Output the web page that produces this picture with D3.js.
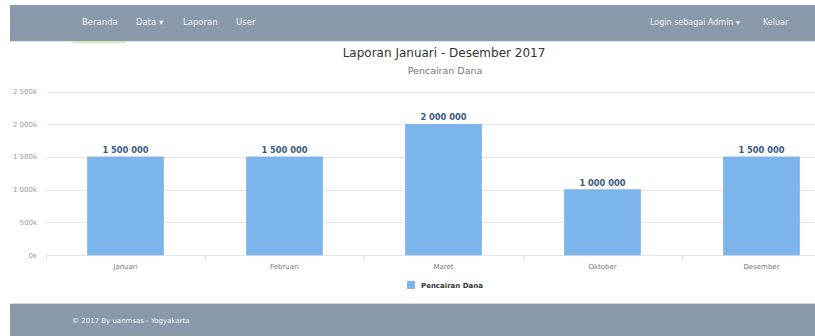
<!DOCTYPE html>
<html>
<head>
<meta charset="utf-8">
<script src="https://cdn.jsdelivr.net/npm/d3@7"></script>
<style>
  html, body { margin: 0; padding: 0; background: #fff; }
  svg { display: block; }
</style>
</head>
<body>
<svg id="page" width="815" height="336"></svg>
<script>
// Report data: disbursements per month (Rupiah)
const categories = ["Januari", "Februari", "Maret", "Oktober", "Desember"];
const values = [1500000, 1500000, 2000000, 1000000, 1500000];
const yTicks = [0, 500000, 1000000, 1500000, 2000000, 2500000];
const yTickLabels = ["0k", "500k", "1 000k", "1 500k", "2 000k", "2 500k"];
const seriesName = "Pencairan Dana";
const titleText = "Laporan Januari - Desember 2017";
const navLeft = ["Beranda", "Data \u25BE", "Laporan", "User"];
const navRight = ["Login sebagai Admin \u25BE", "Keluar"];
const footerText = "\u00A9 2017 By uanmsas - Yogyakarta";

const svg = d3.select("#page");
const font = "'DejaVu Sans', Verdana, sans-serif";
const barColor = "#7cb5ec";
const barColor2 = "#78aee6";
const navColor = "#8a99a9";

// ---- navbar ----
svg.append("rect").attr("x", 10).attr("y", 5).attr("width", 805).attr("height", 36).attr("fill", navColor);
svg.append("rect").attr("x", 10).attr("y", 41).attr("width", 805).attr("height", 1).attr("fill", "#dfe5ea");
svg.append("rect").attr("x", 73).attr("y", 41).attr("width", 53).attr("height", 2).attr("fill", "#cdeeb0");

const navLeftX = [82, 136, 183, 236];
svg.selectAll("text.navl").data(navLeft).join("text")
  .attr("class", "navl")
  .attr("x", (d, i) => navLeftX[i]).attr("y", 25)
  .attr("font-family", font).attr("font-size", 8.5)
  .attr("fill", "#eef2f6")
  .text(d => d);
const navRightX = [650, 763];
svg.selectAll("text.navr").data(navRight).join("text")
  .attr("class", "navr")
  .attr("x", (d, i) => navRightX[i]).attr("y", 25)
  .attr("font-family", font).attr("font-size", 8)
  .attr("fill", "#eef2f6")
  .text(d => d);

// ---- chart ----
const x = d3.scaleBand().domain(categories).range([46, 841]).padding(0);
const barFrac = 0.48;
const y = d3.scaleLinear().domain([0, 2500000]).range([255, 91.5]);

// title & subtitle
svg.append("text").attr("x", 444).attr("y", 57).attr("text-anchor", "middle")
  .attr("font-family", font).attr("font-size", 12).attr("fill", "#333")
  .text(titleText);
svg.append("text").attr("x", 445).attr("y", 74).attr("text-anchor", "middle")
  .attr("font-family", font).attr("font-size", 9.5).attr("fill", "#777")
  .text(seriesName);

// grid
const grid = svg.append("g");
grid.selectAll("line").data(yTicks.slice(1)).join("line")
  .attr("x1", 46).attr("x2", 815)
  .attr("y1", d => Math.round(y(d)) + 0.5).attr("y2", d => Math.round(y(d)) + 0.5)
  .attr("stroke", "#e6e6e6").attr("stroke-width", 1);

// y labels
svg.append("g").selectAll("text").data(yTicks).join("text")
  .attr("x", 37).attr("y", d => y(d) + 2.5)
  .attr("text-anchor", "end")
  .attr("font-family", font).attr("font-size", 7)
  .attr("fill", "#9a9a9a")
  .text((d, i) => yTickLabels[i]);

// x axis line and ticks
svg.append("line").attr("x1", 46).attr("x2", 815)
  .attr("y1", y(0) + 0.5).attr("y2", y(0) + 0.5)
  .attr("stroke", "#dfe4ee");
svg.append("g").selectAll("line").data(categories).join("line")
  .attr("x1", d => Math.round(x(d)) + 0.5).attr("x2", d => Math.round(x(d)) + 0.5)
  .attr("y1", y(0)).attr("y2", y(0) + 5)
  .attr("stroke", "#dfe4ee");

// bars
const bw = x.bandwidth() * barFrac;
svg.append("g").selectAll("rect").data(values).join("rect")
  .attr("x", (d, i) => x(categories[i]) + (x.bandwidth() - bw) / 2)
  .attr("width", bw)
  .attr("y", d => y(d))
  .attr("height", d => y(0) - y(d))
  .attr("fill", barColor)
  .attr("stroke", barColor2).attr("stroke-width", 0.5);

// value labels
const fmt = v => d3.format(",")(v).replace(/,/g, " ");
svg.append("g").selectAll("text").data(values).join("text")
  .attr("x", (d, i) => x(categories[i]) + x.bandwidth() / 2)
  .attr("y", d => y(d) - 4)
  .attr("text-anchor", "middle")
  .attr("font-family", font).attr("font-size", 8.3).attr("font-weight", "bold")
  .attr("fill", "#3a5a82")
  .text(d => fmt(d));

// category labels
svg.append("g").selectAll("text").data(categories).join("text")
  .attr("x", d => x(d) + x.bandwidth() / 2)
  .attr("y", 269)
  .attr("text-anchor", "middle")
  .attr("font-family", font).attr("font-size", 7)
  .attr("fill", "#777")
  .text(d => d);

// legend
svg.append("rect").attr("x", 407).attr("y", 281).attr("width", 8).attr("height", 8)
  .attr("fill", barColor);
svg.append("text").attr("x", 421).attr("y", 288)
  .attr("font-family", font).attr("font-size", 7).attr("font-weight", "bold")
  .attr("fill", "#333")
  .text(seriesName);

// ---- footer ----
svg.append("rect").attr("x", 10).attr("y", 303).attr("width", 805).attr("height", 1).attr("fill", "#d6dce2");
svg.append("rect").attr("x", 10).attr("y", 304).attr("width", 805).attr("height", 32).attr("fill", navColor);
svg.append("text").attr("x", 72).attr("y", 323)
  .attr("font-family", font).attr("font-size", 7)
  .attr("fill", "#eef2f6")
  .text(footerText);
</script>
</body>
</html>
